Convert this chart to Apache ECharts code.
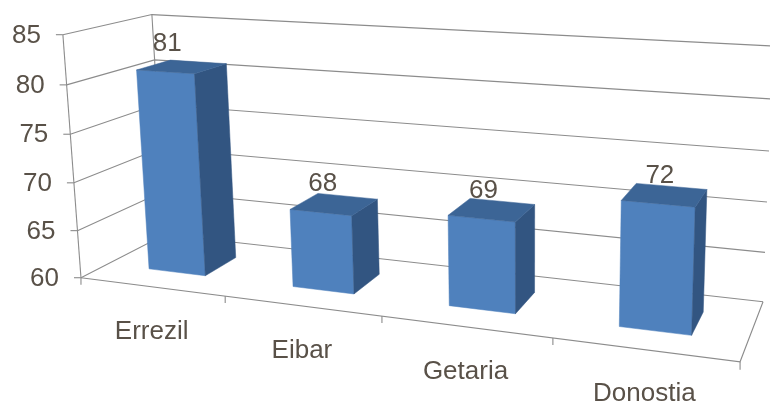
<!DOCTYPE html>
<html><head><meta charset="utf-8">
<script src="https://cdn.jsdelivr.net/npm/echarts@6/dist/echarts.min.js"></script>
<style>html,body{margin:0;padding:0;background:#fff}#c{width:770px;height:411px}</style>
</head><body><div id="c"></div>
<script>
const categories = ['Errezil', 'Eibar', 'Getaria', 'Donostia'];
const values = [81, 68, 69, 72];
const yTicks = [60, 65, 70, 75, 80, 85];
const yMin = 60, yMax = 85, yStep = 5;

// 3D frame calibration: [X, Y, Z, px, py]; X 0..1 across, Y 0..1 up, Z 0 front .. 1 back
const frameCalib = [
  [0, 0, 0, 81, 277], [0, 0.2, 0, 77.5, 230], [0, 0.4, 0, 73.6, 183], [0, 0.6, 0, 69.9, 135],
  [0, 0.8, 0, 66.3, 86], [0, 1, 0, 63, 34],
  [0, 1, 1, 153, 14], [0, 0.8, 1, 155, 60], [0, 0.6, 1, 156, 105],
  [1, 0, 1, 763, 302], [1, 0.2, 1, 765, 253], [1, 0.4, 1, 767, 202], [1, 0.6, 1, 769, 150],
  [1, 0.8, 1, 771, 99], [1, 1, 1, 773, 46],
  [1, 0, 0, 740, 362], [0.25, 0, 0, 226, 296], [0.5, 0, 0, 382, 316], [0.75, 0, 0, 553, 338]
];

function solveProjection(pts) {
  const n = 11;
  const M = Array.from({ length: n }, () => new Array(n + 1).fill(0));
  const add = (row, rhs) => {
    for (let i = 0; i < n; i++) {
      for (let j = 0; j < n; j++) M[i][j] += row[i] * row[j];
      M[i][n] += row[i] * rhs;
    }
  };
  for (const [X, Y, Z, u, v] of pts) {
    add([X, Y, Z, 1, 0, 0, 0, 0, -u * X, -u * Y, -u * Z], u);
    add([0, 0, 0, 0, X, Y, Z, 1, -v * X, -v * Y, -v * Z], v);
  }
  for (let c = 0; c < n; c++) {
    let p = c;
    for (let r = c + 1; r < n; r++) if (Math.abs(M[r][c]) > Math.abs(M[p][c])) p = r;
    [M[c], M[p]] = [M[p], M[c]];
    for (let r = 0; r < n; r++) {
      if (r === c) continue;
      const f = M[r][c] / M[c][c];
      for (let k = c; k <= n; k++) M[r][k] -= f * M[c][k];
    }
  }
  return M.map((row, i) => row[n] / row[i]);
}
const P = solveProjection(frameCalib);
function proj(X, Y, Z) {
  const w = P[8] * X + P[9] * Y + P[10] * Z + 1;
  return [(P[0] * X + P[1] * Y + P[2] * Z + P[3]) / w, (P[4] * X + P[5] * Y + P[6] * Z + P[7]) / w];
}
function norm(params, api, cat, val) {
  const cs = params.coordSys;
  const c = api.coord([cat, val]);
  return [(c[0] - cs.x) / cs.width, (cs.y + cs.height - c[1]) / cs.height];
}

const FONT = '25px "Liberation Sans", Arial, sans-serif';
const TXT = '#595148';
const LINE = '#8c8c8c';
const SX = 1.04;
const line = (pts) => ({ type: 'polyline', shape: { points: pts }, style: { stroke: LINE, lineWidth: 1.1, fill: null } });
const text = (t, x, y, align) => ({
  type: 'text', x: x, y: y, scaleX: SX, scaleY: 1,
  style: { text: t, x: 0, y: 0, font: FONT, fill: TXT, align: align, verticalAlign: 'middle' }
});

const chart = echarts.init(document.getElementById('c'));
chart.setOption({
  animation: false,
  backgroundColor: '#fff',
  grid: { left: 0, top: 0, width: 100, height: 100 },
  xAxis: { type: 'category', data: categories, show: false },
  yAxis: { type: 'value', min: yMin, max: yMax, interval: yStep, show: false },
  series: [
    {
      type: 'custom', clip: false, silent: true,
      data: yTicks.map(v => [0, v]),
      renderItem: function (params, api) {
        const Y = norm(params, api, 0, api.value(1))[1];
        const children = [];
        children.push(line([proj(0, Y, 0), proj(0, Y, 1), proj(1, Y, 1)]));
        const a = proj(0, Y, 0);
        children.push(line([[a[0] - 7, a[1]], a]));
        children.push(text(String(api.value(1)), a[0] - 22, a[1] + 1, 'right'));
        if (params.dataIndex === 0) {
          const Ytop = norm(params, api, 0, yMax)[1];
          children.push(line([proj(0, Y, 0), proj(1, Y, 0), proj(1, Y, 1)]));
          children.push(line([proj(0, Y, 0), proj(0, Ytop, 0)]));
          children.push(line([proj(0, Y, 1), proj(0, Ytop, 1)]));
        }
        return { type: 'group', children: children };
      }
    },
    {
      type: 'custom', clip: false, silent: true,
      data: categories.map((c, i) => [i, yMin]),
      renderItem: function (params, api) {
        const cs = params.coordSys;
        const i = api.value(0);
        const n = norm(params, api, i, yMin);
        const cell = api.size([1, 0])[0] / cs.width;
        const children = [];
        const t0 = proj(n[0] - cell / 2, n[1], 0);
        children.push(line([t0, [t0[0], t0[1] + 7]]));
        if (i === categories.length - 1) {
          const t1 = proj(n[0] + cell / 2, n[1], 0);
          children.push(line([t1, [t1[0], t1[1] + 8]]));
        }
        const c = proj(n[0], n[1], 0);
        children.push(text(categories[i], c[0], c[1] + 45, 'center'));
        return { type: 'group', children: children };
      }
    },
    {
      type: 'custom', clip: false, silent: true,
      data: values.map((v, i) => [i, v]),
      renderItem: function (params, api) {
        const cs = params.coordSys;
        const i = api.value(0);
        const top = norm(params, api, i, api.value(1));
        const base = norm(params, api, i, yMin);
        const cell = api.size([1, 0])[0] / cs.width;
        const hw = 0.2 * cell, z0 = 0.3, z1 = 0.7;
        const xl = top[0] - hw, xr = top[0] + hw, Yv = top[1], Y0 = base[1];
        const poly = (pts, fill) => ({ type: 'polygon', shape: { points: pts }, style: { fill: fill, stroke: fill, lineWidth: 0.5 } });
        const lab = proj(top[0], Yv, z0);
        return {
          type: 'group', children: [
            poly([proj(xl, Y0, z0), proj(xr, Y0, z0), proj(xr, Yv, z0), proj(xl, Yv, z0)], '#4f81bd'),
            poly([proj(xr, Y0, z0), proj(xr, Y0, z1), proj(xr, Yv, z1), proj(xr, Yv, z0)], '#325581'),
            poly([proj(xl, Yv, z0), proj(xr, Yv, z0), proj(xr, Yv, z1), proj(xl, Yv, z1)], '#3c6596'),
            text(String(api.value(1)), lab[0] + 2, lab[1] - 28, 'center')
          ]
        };
      }
    }
  ]
});
</script>
</body></html>
